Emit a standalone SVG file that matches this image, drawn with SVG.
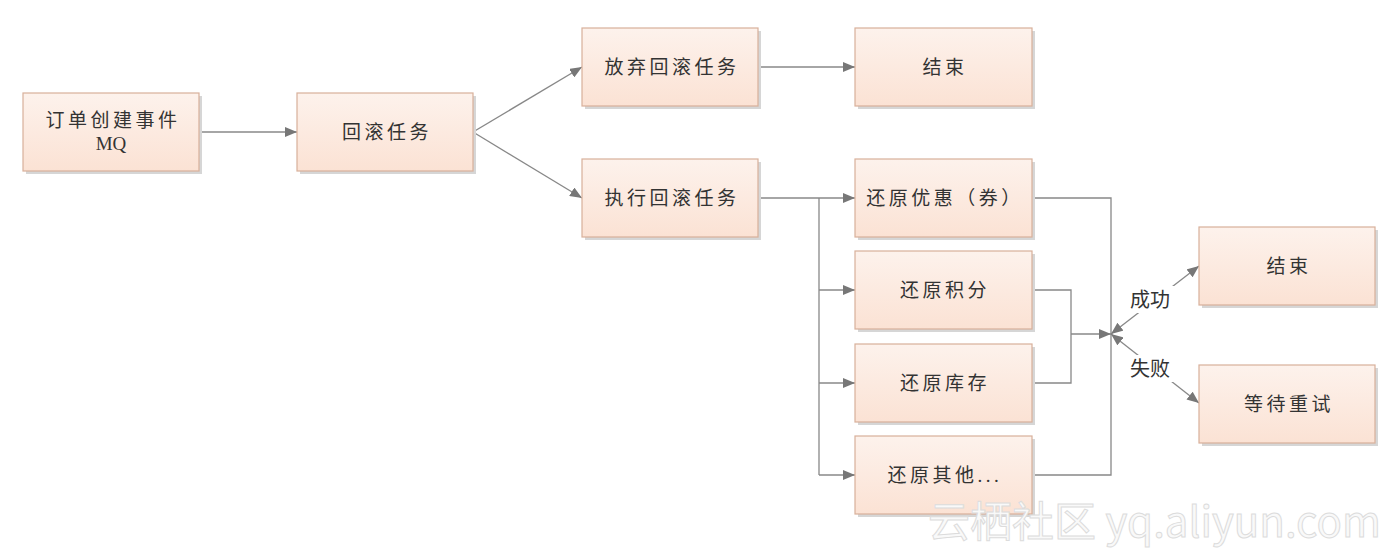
<svg xmlns="http://www.w3.org/2000/svg" width="1400" height="551" viewBox="0 0 1400 551">
<defs>
<linearGradient id="g" x1="0" y1="0" x2="0" y2="1">
<stop offset="0" stop-color="#fdf2ec"/>
<stop offset="1" stop-color="#fbe2d4"/>
</linearGradient>
<marker id="ah" viewBox="0 0 12 10" refX="12" refY="5" markerWidth="12" markerHeight="10" markerUnits="userSpaceOnUse" orient="auto">
<path d="M0,0 L12,5 L0,10 Z" fill="#777"/>
</marker>
<marker id="as" viewBox="0 0 12 10" refX="0" refY="5" markerWidth="12" markerHeight="10" markerUnits="userSpaceOnUse" orient="auto">
<path d="M12,0 L0,5 L12,10 Z" fill="#777"/>
</marker>
</defs>
<style>
.box{fill:url(#g);stroke:#d8b09a;stroke-width:1.2}
.sh{fill:#d6d6d6}
.t{font-family:"Liberation Serif","Noto Sans CJK SC",serif;font-size:19px;letter-spacing:3.5px;fill:#333;text-anchor:middle}
.m{letter-spacing:0}
.c{fill:none;stroke:#888;stroke-width:1.3}
.lbl{font-family:"Noto Sans CJK SC",sans-serif;font-size:20px;fill:#333}
.wm{font-family:"Noto Sans CJK SC","Liberation Sans",sans-serif;font-size:42px;fill:#f9f9f9;stroke:#dcdcdc;stroke-width:1}
</style>
<rect width="1400" height="551" fill="#fff"/>

<g id="connectors">
<path class="c" d="M199,132 H297" marker-end="url(#ah)"/>
<path class="c" d="M473,132 L582,67" marker-end="url(#ah)"/>
<path class="c" d="M473,132 L582,198" marker-end="url(#ah)"/>
<path class="c" d="M758,67 H855" marker-end="url(#ah)"/>
<path class="c" d="M758,198 H855" marker-end="url(#ah)"/>
<path class="c" d="M819,198 V475"/>
<path class="c" d="M819,290 H855" marker-end="url(#ah)"/>
<path class="c" d="M819,383 H855" marker-end="url(#ah)"/>
<path class="c" d="M819,475 H855" marker-end="url(#ah)"/>
<path class="c" d="M1032,198 H1111 V475 H1032"/>
<path class="c" d="M1032,290 H1071 V383 H1032"/>
<path class="c" d="M1071,334 H1111" marker-end="url(#ah)"/>
<path class="c" d="M1111,334 L1199,266" marker-start="url(#as)" marker-end="url(#ah)"/>
<path class="c" d="M1111,334 L1199,403" marker-start="url(#as)" marker-end="url(#ah)"/>
<rect x="1128" y="286" width="50" height="27" fill="#fff"/>
<rect x="1128" y="355" width="50" height="27" fill="#fff"/>
<text class="lbl" x="1130" y="307">成功</text>
<text class="lbl" x="1130" y="376">失败</text>
</g>

<g id="n1"><rect class="sh" x="26" y="96" width="176" height="78"/><rect class="box" x="23" y="93" width="176" height="78"/>
<text class="t" x="113" y="127">订单创建事件</text><text class="t m" x="111" y="150">MQ</text></g>
<g id="n2"><rect class="sh" x="300" y="96" width="176" height="78"/><rect class="box" x="297" y="93" width="176" height="78"/>
<text class="t" x="387" y="139">回滚任务</text></g>
<g id="n3"><rect class="sh" x="585" y="31" width="176" height="78"/><rect class="box" x="582" y="28" width="176" height="78"/>
<text class="t" x="672" y="74">放弃回滚任务</text></g>
<g id="n4"><rect class="sh" x="858" y="31" width="177" height="78"/><rect class="box" x="855" y="28" width="177" height="78"/>
<text class="t" x="945" y="74">结束</text></g>
<g id="n5"><rect class="sh" x="585" y="162" width="176" height="78"/><rect class="box" x="582" y="159" width="176" height="78"/>
<text class="t" x="672" y="205">执行回滚任务</text></g>
<g id="n6"><rect class="sh" x="858" y="162" width="177" height="78"/><rect class="box" x="855" y="159" width="177" height="78"/>
<text class="t" x="945" y="205">还原优惠（券）</text></g>
<g id="n7"><rect class="sh" x="858" y="254" width="177" height="78"/><rect class="box" x="855" y="251" width="177" height="78"/>
<text class="t" x="945" y="297">还原积分</text></g>
<g id="n8"><rect class="sh" x="858" y="347" width="177" height="78"/><rect class="box" x="855" y="344" width="177" height="78"/>
<text class="t" x="945" y="390">还原库存</text></g>
<g id="n9"><rect class="sh" x="858" y="439" width="177" height="78"/><rect class="box" x="855" y="436" width="177" height="78"/>
<text class="t" x="945" y="482">还原其他...</text></g>
<g id="n10"><rect class="sh" x="1202" y="230" width="176" height="78"/><rect class="box" x="1199" y="227" width="176" height="78"/>
<text class="t" x="1289" y="273">结束</text></g>
<g id="n11"><rect class="sh" x="1202" y="368" width="176" height="78"/><rect class="box" x="1199" y="365" width="176" height="78"/>
<text class="t" x="1289" y="411">等待重试</text></g>

<text class="wm" x="928" y="537">云栖社区 yq.aliyun.com</text>
</svg>
